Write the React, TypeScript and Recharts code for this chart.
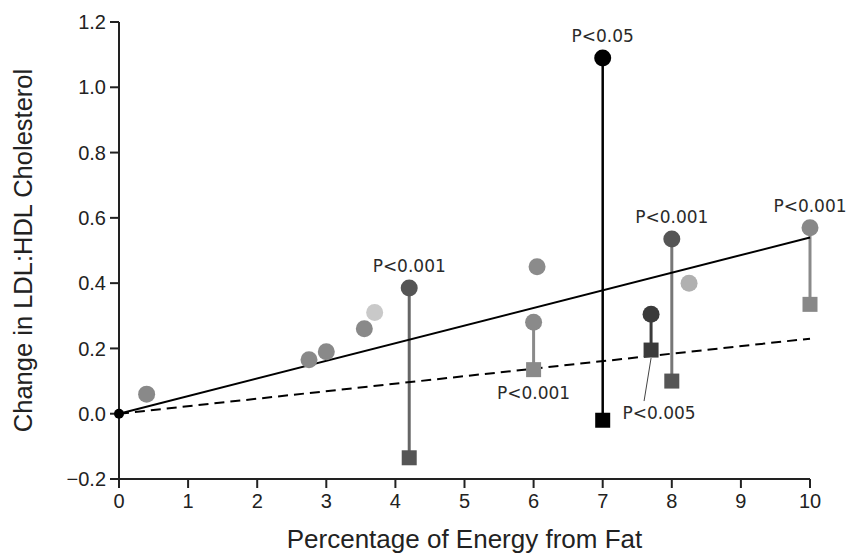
import { ScatterChart, Scatter, XAxis, YAxis, Label } from 'recharts';

const xTicks = [0, 1, 2, 3, 4, 5, 6, 7, 8, 9, 10];
const yTicks = [-0.2, 0, 0.2, 0.4, 0.6, 0.8, 1.0, 1.2];

// studies shown as a single circle
const singleX = [0.4, 2.75, 3.0, 3.55, 3.7, 6.05, 8.25];
const singleY = [0.06, 0.165, 0.19, 0.26, 0.31, 0.45, 0.4];

// studies with a circle and a square joined by a stem
const pairX = [4.2, 6.0, 7.0, 7.7, 8.0, 10.0];
const pairCircleY = [0.385, 0.28, 1.09, 0.305, 0.535, 0.57];
const pairSquareY = [-0.135, 0.135, -0.02, 0.195, 0.1, 0.335];
const pairP = ['P<0.001', 'P<0.001', 'P<0.05', 'P<0.005', 'P<0.001', 'P<0.001'];

// regression lines through the origin
const fitX = [0, 10];
const solidFitY = [0, 0.54];
const dashedFitY = [0, 0.23];

// styling
const singleFill = ['#898989', '#898989', '#898989', '#898989', '#c9c9c9', '#8b8b8b', '#b0b0b0'];
const pairCircleFill = ['#555555', '#8a8a8a', '#000000', '#3a3a3a', '#555555', '#888888'];
const pairStemStroke = ['#666666', '#8a8a8a', '#000000', '#3a3a3a', '#777777', '#8a8a8a'];
const pairSquareFill = ['#555555', '#8a8a8a', '#000000', '#3a3a3a', '#555555', '#888888'];
const pPlace = ['above', 'below', 'above', 'leader', 'above', 'above'];

const AXIS = '#222';
const SANS = '"Liberation Sans", Arial, sans-serif';
const PFONT = '"DejaVu Sans", sans-serif';

const singleData = singleX.map((x, i) => ({ x, y: singleY[i], i }));
const circleData = pairX.map((x, i) => ({ x, y: pairCircleY[i], i }));
const squareData = pairX.map((x, i) => ({ x, y: pairSquareY[i], i }));
const solidData = fitX.map((x, i) => ({ x, y: solidFitY[i] }));
const dashedData = fitX.map((x, i) => ({ x, y: dashedFitY[i] }));
const originData = [{ x: fitX[0], y: solidFitY[0] }];

const Nothing = () => <g />;

function SingleDot(props: any) {
  const { cx, cy, payload } = props;
  return <circle cx={cx} cy={cy} r={8.5} fill={singleFill[payload.i]} />;
}

function PText({ x, y, text }: { x: number; y: number; text: string }) {
  return (
    <text x={x} y={y} textAnchor="middle" fontFamily={PFONT} fontSize={17} fill="#2a2a2a">
      {text}
    </text>
  );
}

function PairCircle(props: any) {
  const { cx, cy, payload } = props;
  const i = payload.i;
  return (
    <g>
      <circle cx={cx} cy={cy} r={8.5} fill={pairCircleFill[i]} />
      {pPlace[i] === 'above' && <PText x={cx} y={cy - 16} text={pairP[i]} />}
    </g>
  );
}

function PairSquare(props: any) {
  const { cx, cy, payload } = props;
  const i = payload.i;
  return (
    <g>
      <rect x={cx - 7.5} y={cy - 7.5} width={15} height={15} fill={pairSquareFill[i]} />
      {pPlace[i] === 'below' && <PText x={cx} y={cy + 29} text={pairP[i]} />}
      {pPlace[i] === 'leader' && (
        <g>
          <line x1={cx} y1={cy + 8} x2={cx - 7} y2={cy + 51} stroke="#444" strokeWidth={1} />
          <PText x={cx + 8} y={cy + 69} text={pairP[i]} />
        </g>
      )}
    </g>
  );
}

function OriginDot(props: any) {
  return <circle cx={props.cx} cy={props.cy} r={5} fill="#000" />;
}

function fmtY(v: number) {
  const s = Math.abs(v).toFixed(1);
  return v < 0 ? '\u2212' + s : s;
}

function YTitle(props: any) {
  const vb = props.viewBox;
  const cx = 32;
  const cy = vb.y + vb.height / 2;
  return (
    <text x={cx} y={cy} transform={`rotate(-90 ${cx} ${cy})`} textAnchor="middle" fontFamily={SANS} fontSize={25.5} fill={AXIS}>
      Change in LDL:HDL Cholesterol
    </text>
  );
}

function XTitle(props: any) {
  const vb = props.viewBox;
  return (
    <text x={vb.x + vb.width / 2} y={548} textAnchor="middle" fontFamily={SANS} fontSize={26} fill={AXIS}>
      Percentage of Energy from Fat
    </text>
  );
}

export default function App() {
  const tickStyle = { fill: AXIS, fontFamily: SANS, fontSize: 20 };
  return (
    <div style={{ position: 'absolute', left: 0, top: 0, width: 847, height: 555, background: '#fff' }}>
      <ScatterChart width={847} height={555} margin={{ top: 22, right: 37, left: 0, bottom: 0 }}>
        <XAxis
          type="number"
          dataKey="x"
          domain={[0, 10]}
          ticks={xTicks}
          interval={0}
          height={76}
          tickSize={9}
          tickMargin={6}
          axisLine={{ stroke: AXIS, strokeWidth: 2 }}
          tickLine={{ stroke: AXIS, strokeWidth: 2 }}
          tick={tickStyle}
        >
          <Label content={XTitle} />
        </XAxis>
        <YAxis
          type="number"
          dataKey="y"
          domain={[-0.2, 1.2]}
          ticks={yTicks}
          interval={0}
          width={119}
          tickSize={9}
          tickMargin={4}
          tickFormatter={fmtY}
          axisLine={{ stroke: AXIS, strokeWidth: 2 }}
          tickLine={{ stroke: AXIS, strokeWidth: 2 }}
          tick={tickStyle}
        >
          <Label content={YTitle} />
        </YAxis>

        {pairX.map((x, i) => (
          <Scatter
            key={'stem' + i}
            data={[
              { x, y: pairCircleY[i] },
              { x, y: pairSquareY[i] },
            ]}
            line={{ stroke: pairStemStroke[i], strokeWidth: i === 2 ? 2.5 : 3 }}
            shape={Nothing}
            isAnimationActive={false}
          />
        ))}

        <Scatter data={solidData} line={{ stroke: '#000', strokeWidth: 2 }} shape={Nothing} isAnimationActive={false} />
        <Scatter
          data={dashedData}
          line={{ stroke: '#000', strokeWidth: 2, strokeDasharray: '10 6' }}
          shape={Nothing}
          isAnimationActive={false}
        />

        <Scatter data={singleData} shape={SingleDot} isAnimationActive={false} />
        <Scatter data={squareData} shape={PairSquare} isAnimationActive={false} />
        <Scatter data={circleData} shape={PairCircle} isAnimationActive={false} />
        <Scatter data={originData} shape={OriginDot} isAnimationActive={false} />
      </ScatterChart>
    </div>
  );
}
